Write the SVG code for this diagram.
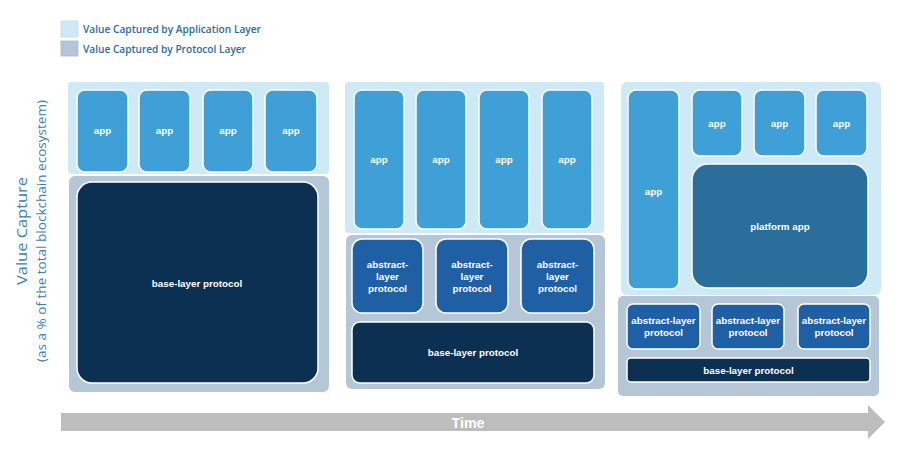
<svg xmlns="http://www.w3.org/2000/svg" width="900" height="476" viewBox="0 0 900 476">
<style>
.bg{fill:#ffffff}
.lp{fill:#cdeaf6}
.gp{fill:#b5c6d6}
.app{fill:#3ea0d7;stroke:#ffffff;stroke-width:1.5}
.plat{fill:#2a6e9c;stroke:#ffffff;stroke-width:1.5}
.abs{fill:#1f60a4;stroke:#ffffff;stroke-width:1.5}
.base{fill:#0b3051;stroke:#ffffff;stroke-width:1.5}
.t{font-family:"Liberation Sans",Arial,sans-serif;font-weight:bold;font-size:9.8px;fill:#ffffff;text-anchor:middle}
.lg{font-family:"Open Sans","Liberation Sans",sans-serif;font-weight:600;font-size:10px;fill:#2d6c9c}
.ax{font-family:"Open Sans","Liberation Sans",sans-serif;fill:#3a82b5;text-anchor:middle}
</style>
<rect class="bg" x="0" y="0" width="900" height="476"/>

<g id="legend">
<rect x="61" y="21" width="17" height="16" fill="#cfe8f5" stroke="#bcdcee" stroke-width="0.8"/>
<text class="lg" x="83" y="33" textLength="178" lengthAdjust="spacingAndGlyphs">Value Captured by Application Layer</text>
<rect x="61" y="41" width="17" height="15" fill="#b6c5d5" stroke="#a9bacb" stroke-width="0.8"/>
<text class="lg" x="83" y="53" textLength="163" lengthAdjust="spacingAndGlyphs">Value Captured by Protocol Layer</text>
</g>

<g id="y-axis-label">
<text class="ax" font-size="15" transform="translate(27,231) rotate(-90)" textLength="108" lengthAdjust="spacingAndGlyphs">Value Capture</text>
<text class="ax" font-size="12" transform="translate(46,231) rotate(-90)" textLength="262" lengthAdjust="spacingAndGlyphs">(as a % of the total blockchain ecosystem)</text>
</g>

<!-- Stage 1 -->
<g id="stage1">
<rect class="lp" x="68" y="82" width="261" height="92" rx="4"/>
<rect class="gp" x="69" y="176" width="260" height="216" rx="6"/>
<g id="s1-app1"><rect class="app" x="77" y="90" width="51" height="82" rx="8"/><text class="t" x="102.5" y="134">app</text></g>
<g id="s1-app2"><rect class="app" x="139" y="90" width="51" height="82" rx="8"/><text class="t" x="164.5" y="134">app</text></g>
<g id="s1-app3"><rect class="app" x="203" y="90" width="50" height="82" rx="8"/><text class="t" x="228" y="134">app</text></g>
<g id="s1-app4"><rect class="app" x="265" y="90" width="52" height="82" rx="8"/><text class="t" x="291" y="134">app</text></g>
<g id="s1-base"><rect class="base" x="77" y="182" width="241" height="201" rx="15"/><text class="t" x="197" y="287">base-layer protocol</text></g>
</g>

<!-- Stage 2 -->
<g id="stage2">
<rect class="lp" x="345" y="82" width="259" height="151" rx="4"/>
<rect class="gp" x="346" y="235" width="259" height="154" rx="6"/>
<g id="s2-app1"><rect class="app" x="354" y="90" width="50" height="139" rx="8"/><text class="t" x="379" y="163">app</text></g>
<g id="s2-app2"><rect class="app" x="416" y="90" width="50" height="139" rx="8"/><text class="t" x="441" y="163">app</text></g>
<g id="s2-app3"><rect class="app" x="479" y="90" width="50" height="139" rx="8"/><text class="t" x="504" y="163">app</text></g>
<g id="s2-app4"><rect class="app" x="542" y="90" width="50" height="139" rx="8"/><text class="t" x="567" y="163">app</text></g>
<g id="s2-abs1"><rect class="abs" x="352" y="239" width="71" height="74" rx="10"/><text class="t" x="387.5" y="268">abstract-</text><text class="t" x="387.5" y="280">layer</text><text class="t" x="387.5" y="292">protocol</text></g>
<g id="s2-abs2"><rect class="abs" x="436" y="239" width="72" height="74" rx="10"/><text class="t" x="472" y="268">abstract-</text><text class="t" x="472" y="280">layer</text><text class="t" x="472" y="292">protocol</text></g>
<g id="s2-abs3"><rect class="abs" x="521" y="239" width="73" height="74" rx="10"/><text class="t" x="557.5" y="268">abstract-</text><text class="t" x="557.5" y="280">layer</text><text class="t" x="557.5" y="292">protocol</text></g>
<g id="s2-base"><rect class="base" x="352" y="322" width="242" height="61" rx="8"/><text class="t" x="473" y="356">base-layer protocol</text></g>
</g>

<!-- Stage 3 -->
<g id="stage3">
<rect class="lp" x="621" y="82" width="260" height="213" rx="6"/>
<rect class="gp" x="618" y="296" width="261" height="100" rx="5"/>
<g id="s3-app-tall"><rect class="app" x="628" y="90" width="51" height="199" rx="8"/><text class="t" x="653.5" y="195">app</text></g>
<g id="s3-app1"><rect class="app" x="692" y="90" width="50" height="66" rx="8"/><text class="t" x="717" y="127">app</text></g>
<g id="s3-app2"><rect class="app" x="754" y="90" width="51" height="66" rx="8"/><text class="t" x="779.5" y="127">app</text></g>
<g id="s3-app3"><rect class="app" x="816" y="90" width="51" height="66" rx="8"/><text class="t" x="841.5" y="127">app</text></g>
<g id="s3-platform"><rect class="plat" x="692" y="164" width="176" height="124" rx="16"/><text class="t" x="780" y="230">platform app</text></g>
<g id="s3-abs1"><rect class="abs" x="627" y="304" width="73" height="45" rx="6"/><text class="t" x="663.5" y="324">abstract-layer</text><text class="t" x="663.5" y="336">protocol</text></g>
<g id="s3-abs2"><rect class="abs" x="712" y="304" width="72" height="45" rx="6"/><text class="t" x="748" y="324">abstract-layer</text><text class="t" x="748" y="336">protocol</text></g>
<g id="s3-abs3"><rect class="abs" x="798" y="304" width="72" height="45" rx="6"/><text class="t" x="834" y="324">abstract-layer</text><text class="t" x="834" y="336">protocol</text></g>
<g id="s3-base"><rect class="base" x="627" y="358" width="243" height="24" rx="4"/><text class="t" x="748.5" y="374">base-layer protocol</text></g>
</g>

<g id="connectors">
<g id="time-arrow">
<polygon points="61,413 868,413 868,405 885,422 868,439 868,431 61,431" fill="#bdbdbd"/>
<text x="468" y="428" font-family="'Liberation Sans',sans-serif" font-weight="bold" font-size="14" fill="#ffffff" text-anchor="middle" textLength="33" lengthAdjust="spacingAndGlyphs">Time</text>
</g>
</g>
</svg>
